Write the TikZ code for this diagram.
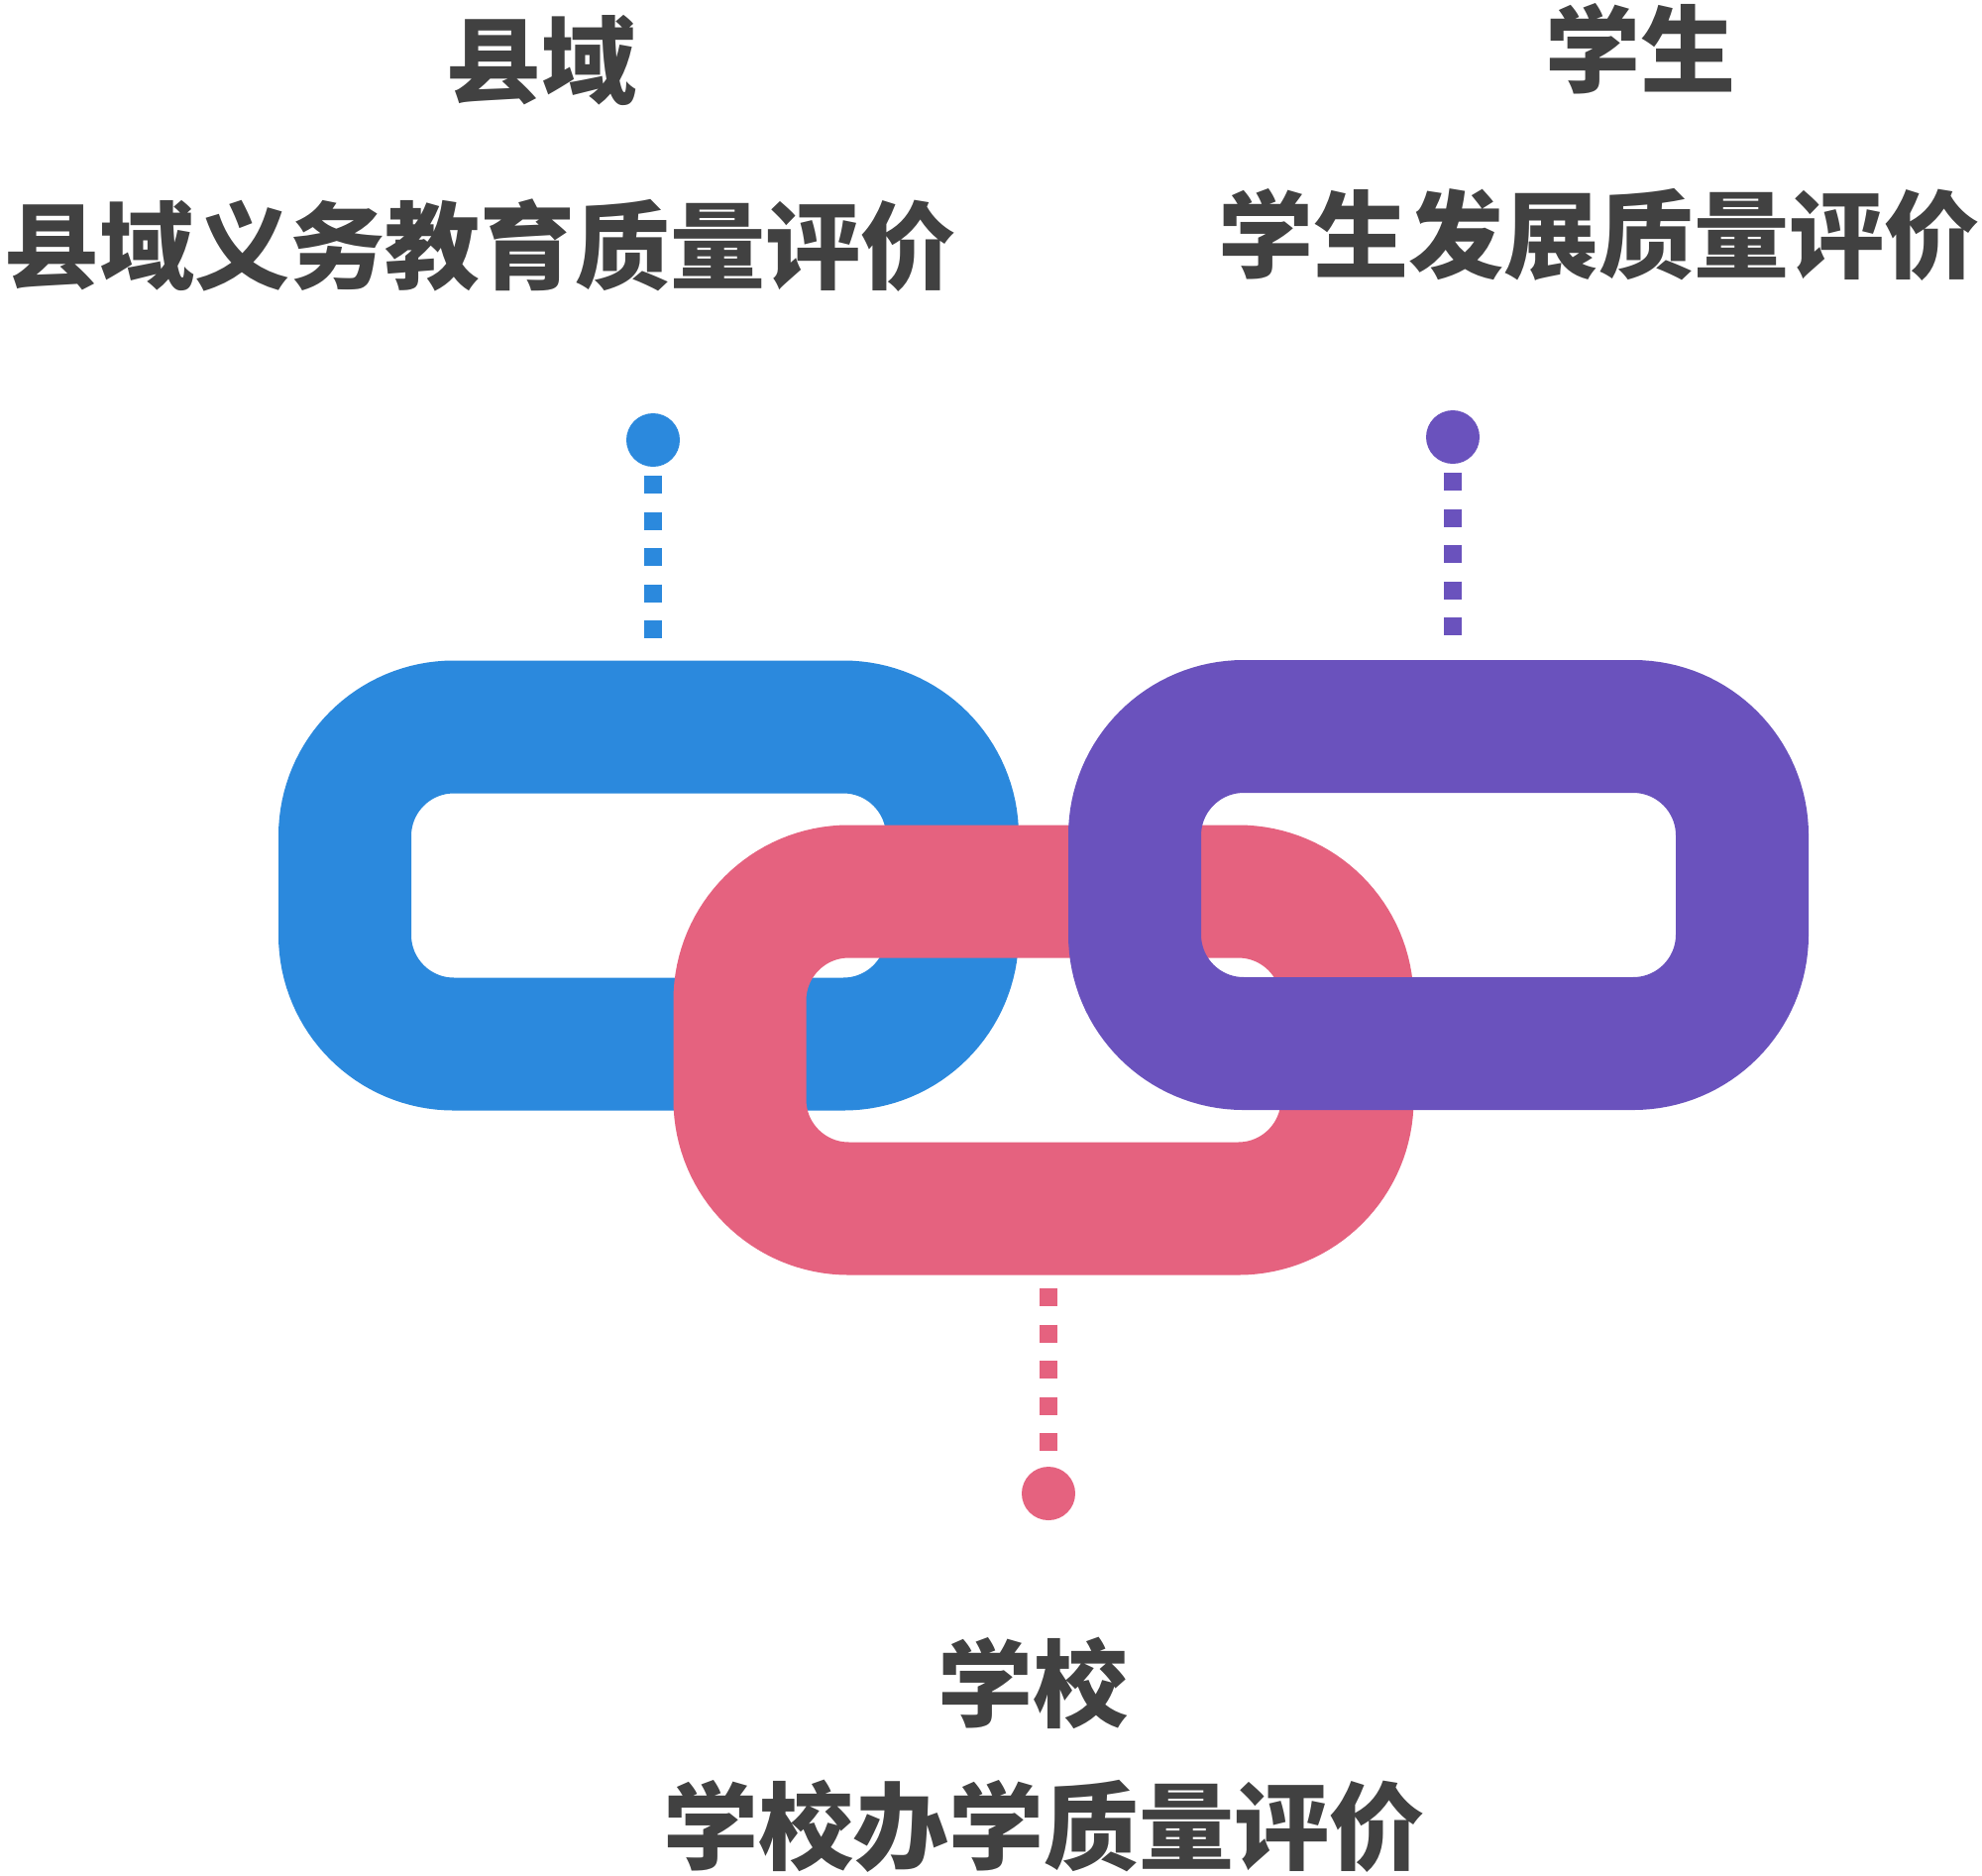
\documentclass[tikz,border=0pt]{standalone}
\usepackage{fontspec}
\newfontfamily\cjk{Noto Sans CJK SC}
\definecolor{cblue}{HTML}{2B89DD}
\definecolor{cpurple}{HTML}{6A52BD}
\definecolor{cpink}{HTML}{E5627F}
\definecolor{ctext}{HTML}{414141}
\begin{document}
\begin{tikzpicture}[x=0.5pt,y=-0.5pt,
  linkshape/.style={line width=67pt, rounded corners=55pt},
  dotshape/.style={circle, inner sep=0pt, minimum size=27pt},
  dashline/.style={line width=9pt, dash pattern=on 9pt off 9.25pt},
  lbl/.style={inner sep=0pt, text=ctext, font=\cjk\bfseries\fontsize{48}{58}\selectfont}]
\useasboundingbox[fill=white] (0,0) rectangle (2000,1892);
% links (blue bottom, pink middle, purple top)
\draw[linkshape, draw=cblue] (348,733.5) rectangle (961,1053.5);
\draw[linkshape, draw=cpink] (746.5,899.5) rectangle (1359.5,1219.5);
\draw[linkshape, draw=cpurple] (1145,733) rectangle (1758,1053);
% dots
\node[dotshape, fill=cblue] (bdot) at (659,444) {};
\node[dotshape, fill=cpurple] (pdot) at (1466,441) {};
\node[dotshape, fill=cpink] (rdot) at (1058,1507) {};
\coordinate (b1) at (659,480); \coordinate (b2) at (659,644);
\coordinate (p1) at (1466,477); \coordinate (p2) at (1466,642);
\coordinate (r1) at (1058,1300); \coordinate (r2) at (1058,1464);
\draw[dashline, draw=cblue] (b1) -- (b2);
\draw[dashline, draw=cpurple] (p1) -- (p2);
\draw[dashline, draw=cpink] (r1) -- (r2);
% labels
\node[lbl] (t1) at (546,61) {县域};
\node[lbl] (s1) at (484,248) {县域义务教育质量评价};
\node[lbl] (t2) at (1655,49) {学生};
\node[lbl] (s2) at (1613,237) {学生发展质量评价};
\node[lbl] (t3) at (1042,1698) {学校};
\node[lbl] (s3) at (1053,1843) {学校办学质量评价};
\end{tikzpicture}
\end{document}
